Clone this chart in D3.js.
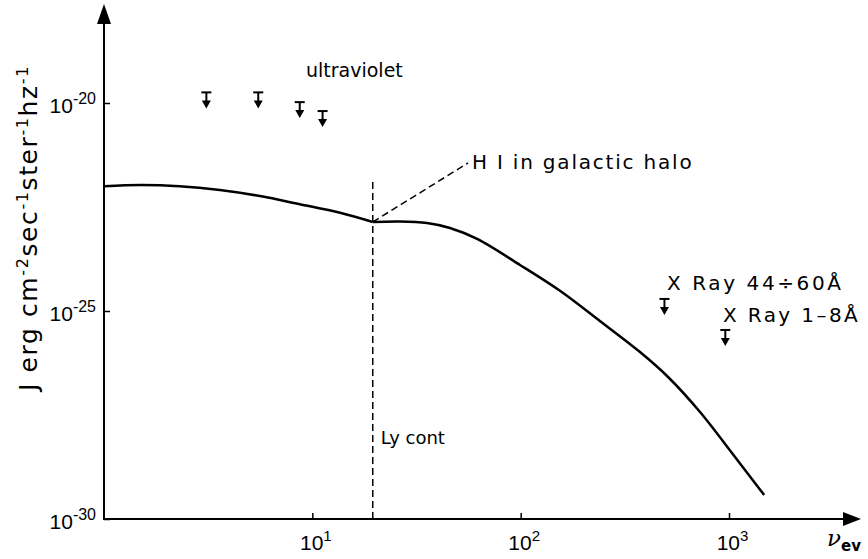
<!DOCTYPE html>
<html>
<head>
<meta charset="utf-8">
<script src="https://cdnjs.cloudflare.com/ajax/libs/d3/7.8.5/d3.min.js"></script>
<style>
  body { margin: 0; background: #fff; }
  svg { font-family: "DejaVu Sans", sans-serif; }
  text { fill: #000; white-space: pre; }
</style>
</head>
<body>
<div id="chart"></div>
<script>
var fullwidth = 868,
    fullheight = 559;

// spectrum below the Lyman limit (eV, J)
var lowEnergy = [1.0, 1.5, 2.3, 3.6, 5.6, 8.7, 13.6, 19.5];
var lowJ = [1.0e-22, 1.07e-22, 1.0e-22, 8.1e-23, 5.8e-23, 3.7e-23, 2.3e-23, 1.38e-23];

// spectrum above the Lyman limit
var highEnergy = [19.5, 26.4, 35.5, 45.8, 61.8, 99.3, 155, 240, 374, 510, 726, 1069, 1475];
var highJ = [1.38e-23, 1.42e-23, 1.30e-23, 9.9e-24, 5.4e-24, 1.28e-24, 3.03e-25, 5.75e-26, 1.03e-26, 2.59e-27, 3.73e-28, 3.09e-29, 3.78e-30];

// upper limits
var uvLimitE = [3.1, 5.5, 8.7, 11.2];
var uvLimitJ = [1.8e-20, 1.8e-20, 1.05e-20, 6.4e-21];
var xrayLimitE = [490, 960];
var xrayLimitJ = [1.95e-25, 3.5e-26];

var lyCont = 19.5;

var xTicks = [10, 100, 1000];
var xTickExp = ['1', '2', '3'];
var yTicks = [1e-20, 1e-25, 1e-30];
var yTickExp = ['-20', '-25', '-30'];

var svg = d3.select('#chart')
    .append('svg')
    .attr('width', fullwidth)
    .attr('height', fullheight);

var xScale = d3.scaleLog()
    .domain([1, 1000])
    .range([104, 729]);

var yScale = d3.scaleLog()
    .domain([1e-30, 1e-20])
    .range([519, 103]);

var x0 = xScale(1), y0 = yScale(1e-30);

// axes lines with arrow heads
svg.append('line')
    .attr('x1', x0).attr('y1', y0 + 1)
    .attr('x2', x0).attr('y2', 20)
    .attr('stroke', '#000').attr('stroke-width', 2);
svg.append('path')
    .attr('d', 'M' + x0 + ',4 L' + (x0 - 7) + ',24 L' + (x0 + 7) + ',24 Z')
    .attr('fill', '#000');

svg.append('line')
    .attr('x1', x0).attr('y1', y0)
    .attr('x2', 848).attr('y2', y0)
    .attr('stroke', '#000').attr('stroke-width', 2);
svg.append('path')
    .attr('d', 'M861,' + y0 + ' L843,' + (y0 - 7) + ' L843,' + (y0 + 7) + ' Z')
    .attr('fill', '#000');

// x axis ticks
var xAxis = d3.axisBottom(xScale)
    .tickValues(xTicks)
    .tickSize(-6)
    .tickSizeOuter(0)
    .tickFormat('');
var xAxisEle = svg.append('g')
    .attr('transform', 'translate(0,' + y0 + ')')
    .call(xAxis);
xAxisEle.select('.domain').remove();
xAxisEle.selectAll('.tick line').attr('stroke-width', 1.5);
xAxisEle.selectAll('.tick').each(function(d, i) {
    var t = d3.select(this).append('text')
        .attr('x', 3)
        .attr('y', 31)
        .attr('text-anchor', 'middle')
        .style('font-size', '21px');
    t.append('tspan').text('10');
    t.append('tspan').attr('dy', -9).style('font-size', '15px').text(xTickExp[i]);
});

// y axis ticks
var yAxis = d3.axisLeft(yScale)
    .tickValues(yTicks)
    .tickSize(-6)
    .tickSizeOuter(0)
    .tickFormat('');
var yAxisEle = svg.append('g')
    .attr('transform', 'translate(' + x0 + ',0)')
    .call(yAxis);
yAxisEle.select('.domain').remove();
yAxisEle.selectAll('.tick line').attr('stroke-width', 1.5);
yAxisEle.selectAll('.tick').each(function(d, i) {
    var t = d3.select(this).append('text')
        .attr('x', -8)
        .attr('y', 9)
        .attr('text-anchor', 'end')
        .style('font-size', '21px');
    t.append('tspan').text('10');
    t.append('tspan').attr('dy', -9).style('font-size', '16px').text(yTickExp[i]);
});

// y axis title
var yTitle = svg.append('text')
    .attr('transform', 'translate(37,228) rotate(-90)')
    .attr('text-anchor', 'middle')
    .style('font-size', '25px')
    .style('letter-spacing', '1.6px');
yTitle.append('tspan').text('J erg cm');
yTitle.append('tspan').attr('dy', -9).style('font-size', '16px').text('-2');
yTitle.append('tspan').attr('dy', 9).text('sec');
yTitle.append('tspan').attr('dy', -9).style('font-size', '16px').text('-1');
yTitle.append('tspan').attr('dy', 9).text('ster');
yTitle.append('tspan').attr('dy', -9).style('font-size', '16px').text('-1');
yTitle.append('tspan').attr('dy', 9).text('hz');
yTitle.append('tspan').attr('dy', -9).style('font-size', '16px').text('-1');

// x axis title
var xTitle = svg.append('text')
    .attr('x', 827).attr('y', 546)
    .style('font-size', '23px')
    .style('font-family', '"DejaVu Serif", serif')
    .style('font-style', 'italic');
xTitle.append('tspan').text('\u03BD');
xTitle.append('tspan').attr('dy', 5).style('font-size', '15px')
    .style('font-family', '"DejaVu Sans", sans-serif')
    .style('font-style', 'normal').style('font-weight', 'bold').text('ev');

// Lyman continuum line
svg.append('line')
    .attr('x1', xScale(lyCont)).attr('x2', xScale(lyCont))
    .attr('y1', 182).attr('y2', y0)
    .attr('stroke', '#000').attr('stroke-width', 1.5)
    .attr('stroke-dasharray', '7,4');

svg.append('text')
    .attr('x', xScale(lyCont) + 8).attr('y', 444)
    .style('font-size', '18px')
    .text('Ly cont');

// H I leader line
var junctionY = yScale(lowJ[lowJ.length - 1]);
svg.append('line')
    .attr('x1', xScale(lyCont)).attr('y1', junctionY)
    .attr('x2', 468).attr('y2', 163)
    .attr('stroke', '#000').attr('stroke-width', 1.5)
    .attr('stroke-dasharray', '7,4');

svg.append('text')
    .attr('x', 472).attr('y', 169)
    .style('font-size', '20px')
    .style('letter-spacing', '1.8px')
    .text('H I in galactic halo');

// spectrum
var line = d3.line()
    .x(function(d) { return xScale(d[0]); })
    .y(function(d) { return yScale(d[1]); })
    .curve(d3.curveCatmullRom.alpha(0.5));

var lowData = lowEnergy.map(function(e, i) { return [e, lowJ[i]]; });
var highData = highEnergy.map(function(e, i) { return [e, highJ[i]]; });

svg.append('path')
    .datum(lowData)
    .attr('d', line)
    .attr('fill', 'none')
    .attr('stroke', '#000')
    .attr('stroke-width', 2.5);

svg.append('path')
    .datum(highData)
    .attr('d', line)
    .attr('fill', 'none')
    .attr('stroke', '#000')
    .attr('stroke-width', 2.5);

// upper limit markers
function drawLimit(e, j) {
    var g = svg.append('g')
        .attr('transform', 'translate(' + xScale(e) + ',' + yScale(j) + ')');
    g.append('line')
        .attr('x1', -5).attr('x2', 5).attr('y1', 0).attr('y2', 0)
        .attr('stroke', '#000').attr('stroke-width', 2);
    g.append('line')
        .attr('x1', 0).attr('x2', 0).attr('y1', 0).attr('y2', 10)
        .attr('stroke', '#000').attr('stroke-width', 2);
    g.append('path')
        .attr('d', 'M-4.5,8 L4.5,8 L0,16 Z')
        .attr('fill', '#000');
}
uvLimitE.forEach(function(e, i) { drawLimit(e, uvLimitJ[i]); });
xrayLimitE.forEach(function(e, i) { drawLimit(e, xrayLimitJ[i]); });

// labels
svg.append('text')
    .attr('x', 306).attr('y', 77)
    .style('font-size', '19px')
    .text('ultraviolet');

svg.append('text')
    .attr('x', 667).attr('y', 290)
    .style('font-size', '20px')
    .style('letter-spacing', '2.6px')
    .text('X Ray 44\u00F760\u00C5');

svg.append('text')
    .attr('x', 723).attr('y', 322)
    .style('font-size', '20px')
    .style('letter-spacing', '2.4px')
    .text('X Ray 1\u20138\u00C5');
</script>
</body>
</html>
